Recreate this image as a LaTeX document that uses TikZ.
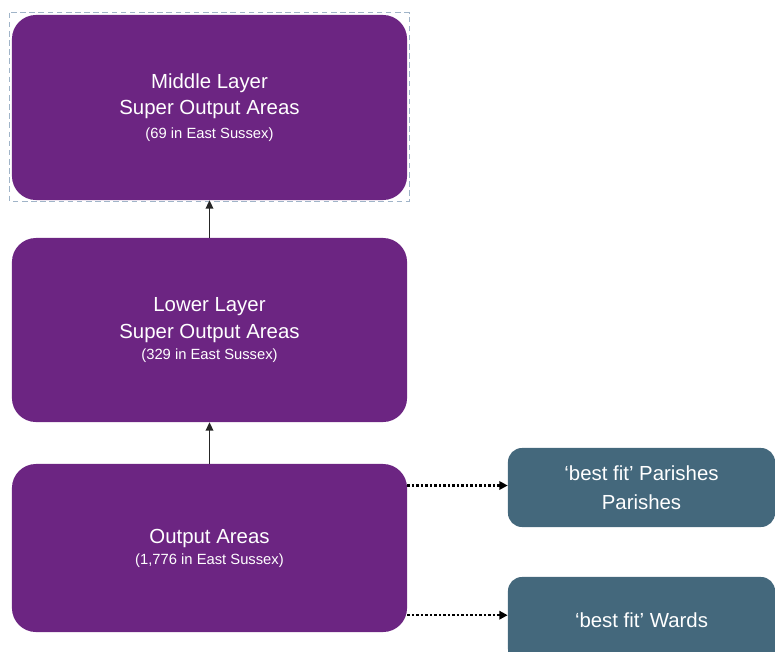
\documentclass[tikz,border=0pt]{standalone}
\usepackage{fontspec}
\setmainfont{Liberation Sans}
\usetikzlibrary{arrows.meta}
\definecolor{areapurple}{RGB}{108,37,130}
\definecolor{fitteal}{RGB}{68,104,124}
\definecolor{selblue}{RGB}{160,180,200}
\begin{document}
\begin{tikzpicture}[x=0.025cm, y=-0.025cm,
  areabox/.style={fill=areapurple, rounded corners=0.6cm, text=white, align=center,
    minimum width=9.875cm, font=\fontsize{14.5}{19}\selectfont},
  fitbox/.style={fill=fitteal, rounded corners=0.35cm, text=white, align=center,
    minimum width=6.675cm, font=\fontsize{14.5}{21}\selectfont},
  uparrow/.style={line width=1.1pt, black!85, -{Triangle[length=6pt,width=5.5pt]}},
  fitarrow/.style={line width=1.6pt, dash pattern=on 1.6pt off 1.6pt, -{Triangle[length=6pt,width=6pt]}}]
  \useasboundingbox (0,0) rectangle (775,651); % keep the page size

  % The three census geography layers
  \node[areabox, minimum height=4.625cm] (mlsoa) at (209.5,107.5)
    {Middle Layer\\Super Output Areas\\[-2pt]{\fontsize{10.5}{12}\selectfont (69 in East Sussex)}};
  \node[areabox, minimum height=4.6cm] (llsoa) at (209.5,330)
    {Lower Layer\\Super Output Areas\\[-4pt]{\fontsize{10.5}{12}\selectfont (329 in East Sussex)}};
  \node[areabox, minimum height=4.2cm] (oa) at (209.5,548)
    {Output Areas\\[-4pt]{\fontsize{10.5}{12}\selectfont (1,776 in East Sussex)}};

  % Selection frame round the top box
  \draw[selblue, line width=0.6pt, dash pattern=on 4pt off 2.5pt]
    ([xshift=-0.05cm,yshift=0.05cm]mlsoa.north west) rectangle ([xshift=0.05cm,yshift=-0.03cm]mlsoa.south east);

  % 'best fit' boxes on the right
  \node[fitbox, minimum height=1.975cm] (par) at (641.5,487.5) {‘best fit’ Parishes\\Parishes};
  \node[fitbox, minimum height=2.15cm] (ward) at (641.5,620) {‘best fit’ Wards};

  % Build-up arrows
  \draw[uparrow] (oa.north) -- (llsoa.south);
  \draw[uparrow] (llsoa.north) -- (mlsoa.south);
  \draw[fitarrow] ([yshift=0.05cm]oa.east |- par.west) -- ([yshift=0.05cm]par.west);
  \draw[fitarrow] ([yshift=0.12cm]oa.east |- ward.west) -- ([yshift=0.12cm]ward.west);
\end{tikzpicture}
\end{document}
